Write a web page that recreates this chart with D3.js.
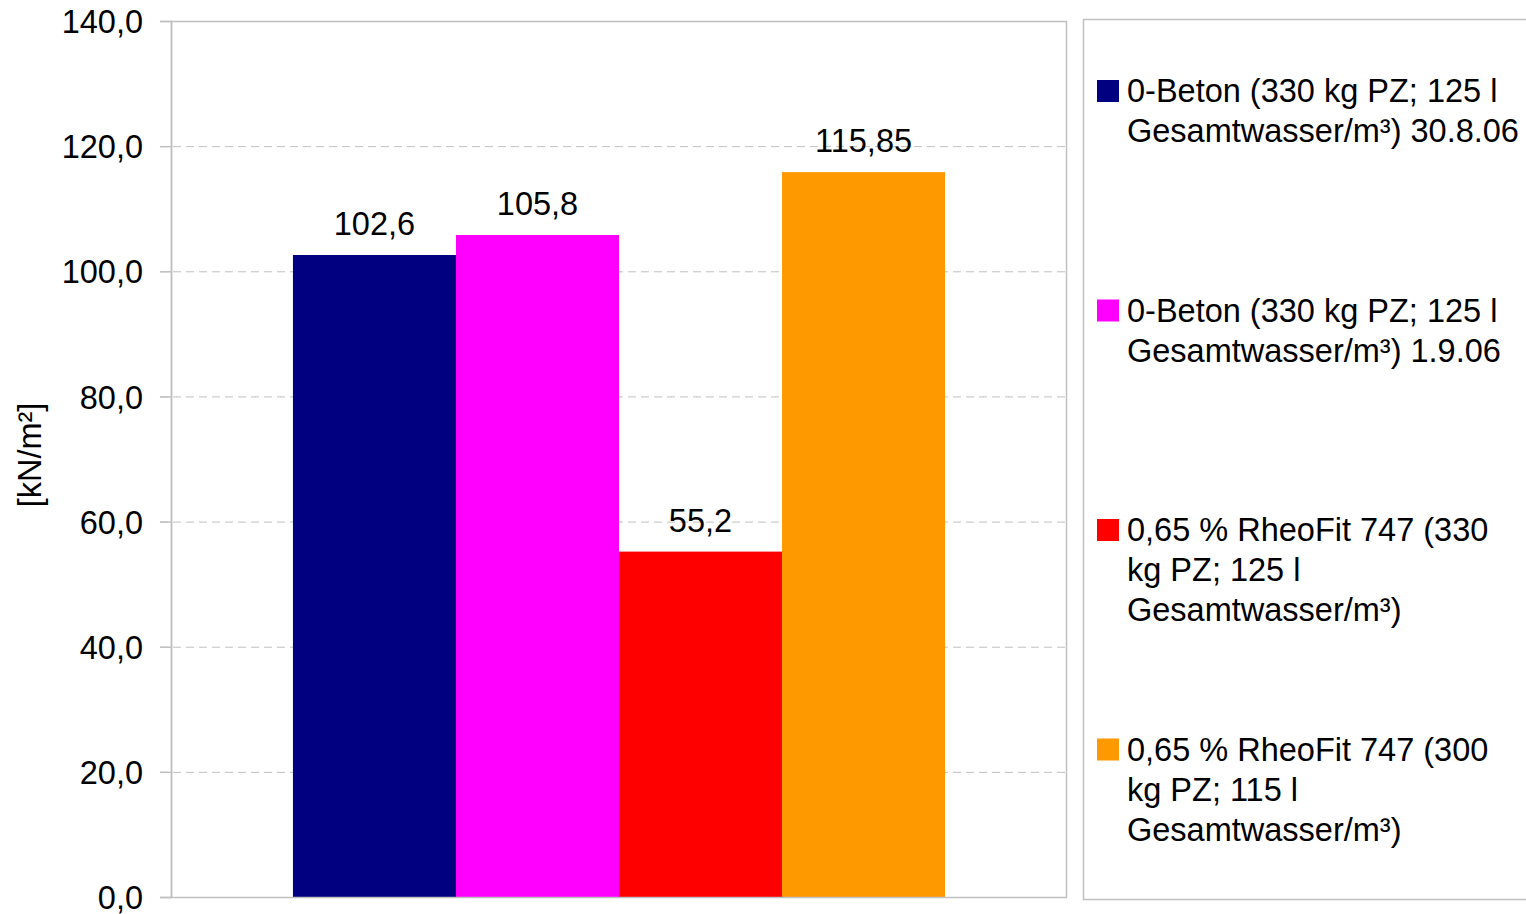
<!DOCTYPE html>
<html>
<head>
<meta charset="utf-8">
<script src="https://cdn.jsdelivr.net/npm/d3@7/dist/d3.min.js"></script>
<style>
  html, body { margin: 0; padding: 0; background: #fff; }
  svg { display: block; font-family: "Liberation Sans", Arial, sans-serif; }
</style>
</head>
<body>
<svg id="chart" width="1526" height="914"></svg>
<script>
// Series (one category, four test mixes)
const categories = [""];
const seriesNames = [
  ["0-Beton (330 kg PZ; 125 l", "Gesamtwasser/m³) 30.8.06"],
  ["0-Beton (330 kg PZ; 125 l", "Gesamtwasser/m³) 1.9.06"],
  ["0,65 % RheoFit 747 (330", "kg PZ; 125 l", "Gesamtwasser/m³)"],
  ["0,65 % RheoFit 747 (300", "kg PZ; 115 l", "Gesamtwasser/m³)"]
];
const seriesValues = [102.6, 105.8, 55.2, 115.85];
const valueLabels = ["102,6", "105,8", "55,2", "115,85"];
const seriesColors = ["#000080", "#ff00ff", "#ff0000", "#ff9900"];
const yTicks = [0, 20, 40, 60, 80, 100, 120, 140];
const yTitle = "[kN/m²]";

const svg = d3.select("#chart");
const plot = { left: 171, right: 1067, top: 21, bottom: 897 };
const gridColor = "#c0c0c0";
const fontSize = 32.5;

const y = d3.scaleLinear().domain([0, 140]).range([plot.bottom, plot.top]);
const x0 = d3.scaleBand().domain(categories).range([plot.left, plot.right])
  .paddingInner(0).paddingOuter(0.187);
const x1 = d3.scaleBand().domain(d3.range(seriesValues.length))
  .range([0, x0.bandwidth()]).padding(0);

// Dashed gridlines
svg.append("g")
  .selectAll("line")
  .data(yTicks.filter(t => t > 0 && t < 140))
  .join("line")
  .attr("x1", plot.left - 11).attr("x2", plot.right)
  .attr("y1", d => y(d) + 0.5).attr("y2", d => y(d) + 0.5)
  .attr("stroke", gridColor).attr("stroke-width", 1)
  .attr("stroke-dasharray", "8,5");

// Bars
const barG = svg.append("g").attr("transform", `translate(${x0("")},0)`);
barG.selectAll("rect")
  .data(seriesValues)
  .join("rect")
  .attr("x", (d, i) => x1(i))
  .attr("width", x1.bandwidth())
  .attr("y", d => y(d))
  .attr("height", d => y(0) - y(d))
  .attr("fill", (d, i) => seriesColors[i]);

// Value labels
barG.selectAll("text")
  .data(seriesValues)
  .join("text")
  .attr("x", (d, i) => x1(i) + x1.bandwidth() / 2)
  .attr("y", d => y(d) - 20)
  .attr("text-anchor", "middle")
  .attr("font-size", fontSize)
  .attr("fill", "#000")
  .text((d, i) => valueLabels[i]);

// Plot frame
svg.append("rect")
  .attr("x", plot.left + 0.5).attr("y", plot.top + 0.5)
  .attr("width", plot.right - plot.left - 1).attr("height", plot.bottom - plot.top)
  .attr("fill", "none").attr("stroke", gridColor).attr("stroke-width", 1.5);

// Y axis
const yAxis = d3.axisLeft(y)
  .tickValues(yTicks)
  .tickSize(11)
  .tickPadding(17)
  .tickFormat(d => d3.format(".1f")(d).replace(".", ","));
const ya = svg.append("g").attr("transform", `translate(${plot.left},0)`).call(yAxis);
ya.select(".domain").attr("stroke", gridColor).attr("stroke-width", 1.5);
ya.selectAll(".tick line").attr("stroke", gridColor).attr("stroke-width", 1.5);
ya.selectAll(".tick text")
  .attr("font-size", fontSize)
  .attr("font-family", "'Liberation Sans', Arial, sans-serif")
  .attr("fill", "#000")
  .attr("dy", "0.36em");

// Y title
svg.append("text")
  .attr("transform", `translate(41,455) rotate(-90)`)
  .attr("text-anchor", "middle")
  .attr("font-size", fontSize)
  .attr("fill", "#000")
  .text(yTitle);

// Legend
svg.append("rect")
  .attr("x", 1083.5).attr("y", 19.5)
  .attr("width", 460).attr("height", 880)
  .attr("fill", "none").attr("stroke", gridColor).attr("stroke-width", 1.5);

const legend = svg.append("g");
const item = legend.selectAll("g")
  .data(seriesNames)
  .join("g")
  .attr("transform", (d, i) => `translate(1097,${80 + i * 219.5})`);
item.append("rect")
  .attr("width", 22).attr("height", 22)
  .attr("fill", (d, i) => seriesColors[i]);
item.append("text")
  .attr("font-size", fontSize)
  .attr("fill", "#000")
  .selectAll("tspan")
  .data(d => d)
  .join("tspan")
  .attr("x", 30)
  .attr("y", (d, j) => 22 + j * 40)
  .text(d => d);
</script>
</body>
</html>
